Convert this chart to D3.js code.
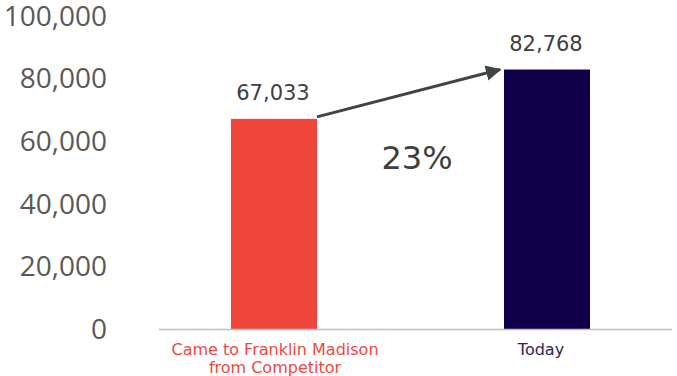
<!DOCTYPE html>
<html><head><meta charset="utf-8">
<script src="https://cdn.jsdelivr.net/npm/d3@7"></script>
<style>body{margin:0;background:#fff}</style>
</head><body>
<svg id="c" width="677" height="376"></svg>
<script>
const categories = ["Came to Franklin Madison\nfrom Competitor", "Today"];
const values = [67033, 82768];
const yTicks = [0, 20000, 40000, 60000, 80000, 100000];
const growthLabel = "23%";
const barColors = ["#F0463C", "#10004A"];
const labelColors = ["#F0483E", "#2C2654"];

const svg = d3.select("#c");
const y = d3.scaleLinear().domain([0, 100000]).range([329, 15.5]);
const x = d3.scaleBand().domain(categories).range([231, 590]).paddingInner(0.685).paddingOuter(0);

// y tick labels
svg.append("g").selectAll("text").data(yTicks).join("text")
  .attr("x", 107).attr("y", d => y(d)).attr("dy", "0.36em")
  .attr("text-anchor", "end")
  .attr("font-family", "Open Sans").attr("font-size", 28).attr("fill", "#595959")
  .text(d => d3.format(",")(d));

// bars
svg.append("g").selectAll("rect").data(values).join("rect")
  .attr("x", (d, i) => x(categories[i])).attr("width", x.bandwidth())
  .attr("y", d => y(d)).attr("height", d => y(0) - y(d))
  .attr("fill", (d, i) => barColors[i]);

// axis line
svg.append("line").attr("x1", 159).attr("x2", 672).attr("y1", y(0)+0.5).attr("y2", y(0)+0.5)
  .attr("stroke", "#BFBFBF").attr("stroke-width", 1.5);

// value labels
svg.append("g").selectAll("text").data(values).join("text")
  .attr("x", (d, i) => x(categories[i]) + x.bandwidth()/2 - 1)
  .attr("y", d => y(d) - 19)
  .attr("text-anchor", "middle")
  .attr("font-family", "DejaVu Sans").attr("font-size", 21).attr("fill", "#404040")
  .text(d => d3.format(",")(d));

// category labels
categories.forEach((c, i) => {
  const cx = x(c) + x.bandwidth()/2 + (i === 0 ? 1 : -6);
  const t = svg.append("text")
    .attr("x", cx).attr("y", 355)
    .attr("text-anchor", "middle")
    .attr("font-family", "DejaVu Sans").attr("font-size", 16).attr("fill", labelColors[i]);
  c.split("\n").forEach((line, j) => {
    t.append("tspan").attr("x", cx).attr("dy", j === 0 ? 0 : 18).text(line);
  });
});

// arrow
const defs = svg.append("defs");
defs.append("marker").attr("id", "ah").attr("viewBox", "0 0 10 10")
  .attr("refX", 9).attr("refY", 5).attr("markerWidth", 5.2).attr("markerHeight", 5.3)
  .attr("markerUnits", "strokeWidth").attr("orient", "auto")
  .append("path").attr("d", "M0,0 L10,5 L0,10 Z").attr("fill", "#404540");
const x1 = x(categories[0]) + x.bandwidth(), y1 = y(values[0]) - 2;
const x2 = x(categories[1]) - 4, y2 = y(values[1]);
svg.append("line").attr("x1", x1).attr("y1", y1).attr("x2", x2).attr("y2", y2)
  .attr("stroke", "#404540").attr("stroke-width", 3).attr("marker-end", "url(#ah)");

// growth label
svg.append("text").attr("x", 417).attr("y", 169).attr("text-anchor", "middle")
  .attr("font-family", "DejaVu Sans").attr("font-size", 32).attr("fill", "#404040")
  .text(growthLabel);
</script>
</body></html>
